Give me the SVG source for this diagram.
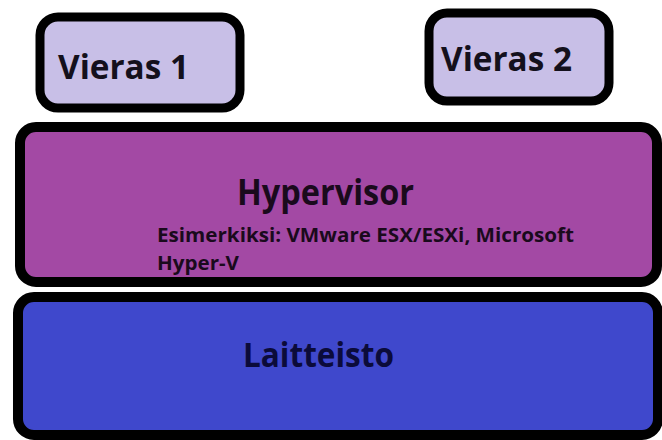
<svg xmlns="http://www.w3.org/2000/svg" width="662" height="440" viewBox="0 0 662 440">
<style>
.box{stroke:#000;stroke-width:10}
.guest{fill:#C8BFE7;stroke-width:9}
.hyp{fill:#A349A4}
.hw{fill:#3F48CC}
text{font-family:"Open Sans","Noto Sans","Liberation Sans",sans-serif;font-weight:bold}
.big{font-size:34px}
.small{font-size:19.5px}
</style>
<rect width="662" height="440" fill="#fff"/>
<g id="vieras1">
<rect class="box guest" x="40" y="17" width="200" height="91" rx="18"/>
<text class="big" x="58" y="79" fill="#14101c" textLength="131" lengthAdjust="spacingAndGlyphs">Vieras 1</text>
</g>
<g id="vieras2">
<rect class="box guest" x="429" y="13" width="180" height="88" rx="18"/>
<text class="big" x="441" y="71" fill="#14101c" textLength="131" lengthAdjust="spacingAndGlyphs">Vieras 2</text>
</g>
<g id="hypervisor">
<rect class="box hyp" x="20" y="127" width="637" height="155" rx="16"/>
<text x="237" y="205" font-size="35" fill="#1a0a1c" textLength="177" lengthAdjust="spacingAndGlyphs">Hypervisor</text>
<text class="small" x="157" y="242" fill="#1a0a1c" textLength="417" lengthAdjust="spacingAndGlyphs">Esimerkiksi: VMware ESX/ESXi, Microsoft</text>
<text class="small" x="157" y="270" fill="#1a0a1c" textLength="82" lengthAdjust="spacingAndGlyphs">Hyper-V</text>
</g>
<g id="laitteisto">
<rect class="box hw" x="18" y="297" width="640" height="138" rx="16"/>
<text class="big" x="243" y="367" fill="#0b0b3a" textLength="151" lengthAdjust="spacingAndGlyphs">Laitteisto</text>
</g>
<g id="connectors"></g>
</svg>
